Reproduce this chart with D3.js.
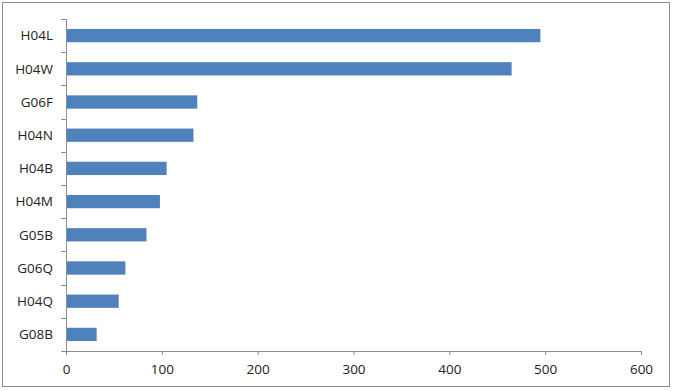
<!DOCTYPE html>
<html>
<head>
<meta charset="utf-8">
<script src="https://cdn.jsdelivr.net/npm/d3@7"></script>
<style>
  body { margin: 0; background: #fff; }
  text { font-family: "Open Sans", sans-serif; fill: #222; }
</style>
</head>
<body>
<div id="graph"></div>
<script>
// data
var categories = ["H04L", "H04W", "G06F", "H04N", "H04B", "H04M", "G05B", "G06Q", "H04Q", "G08B"]
var counts = [495, 465, 137, 133, 105, 98, 84, 62, 55, 32]
var xTicks = [0, 100, 200, 300, 400, 500, 600]

var W = 673, H = 391
var margin = {top: 19, right: 32, bottom: 40, left: 66},
    width = 641 - margin.left,
    height = 351 - margin.top

var svg = d3.select("#graph").append("svg")
            .attr("width", W)
            .attr("height", H)

// outer frame
svg.append("rect")
   .attr("x", 2.5).attr("y", 2.5)
   .attr("width", 667).attr("height", 384)
   .attr("fill", "#fff")
   .attr("stroke", "#8c8c8c")
   .attr("stroke-width", 1)

var g = svg.append("g")
           .attr("transform", "translate(" + margin.left + "," + margin.top + ")")

var x = d3.scaleLinear().domain([0, 600]).range([0, width])
var y = d3.scaleBand().domain(categories).range([0, height]).paddingInner(0.6).paddingOuter(0.3)

// bars
g.selectAll(".bar")
 .data(categories)
 .enter().append("rect")
 .attr("class", "bar")
 .attr("x", x(0))
 .attr("y", function(d) { return y(d) })
 .attr("width", function(d, i) { return x(counts[i]) - x(0) })
 .attr("height", y.bandwidth())
 .attr("fill", "#4f81bd")

// x axis
var xAxis = g.append("g")
             .attr("transform", "translate(0," + height + ")")
             .call(d3.axisBottom(x).tickValues(xTicks).tickSize(4).tickSizeOuter(0).tickPadding(9))
xAxis.select(".domain").attr("stroke", "#8c8c8c")
xAxis.selectAll(".tick line").attr("stroke", "#8c8c8c")
xAxis.selectAll("text").attr("font-size", 13.5).style("fill", "#222")

// y axis: line plus ticks at band boundaries
var yAxis = g.append("g")
yAxis.append("line")
     .attr("x1", 0.5).attr("x2", 0.5)
     .attr("y1", 0).attr("y2", height)
     .attr("stroke", "#8c8c8c")
var step = height / categories.length
yAxis.selectAll(".yt")
     .data(d3.range(categories.length + 1))
     .enter().append("line")
     .attr("x1", -5).attr("x2", 0)
     .attr("y1", function(i) { return Math.round(i * step) + 0.5 })
     .attr("y2", function(i) { return Math.round(i * step) + 0.5 })
     .attr("stroke", "#8c8c8c")
yAxis.selectAll(".yl")
     .data(categories)
     .enter().append("text")
     .attr("x", -13)
     .attr("y", function(d) { return y(d) + y.bandwidth() / 2 })
     .attr("dy", "0.35em")
     .attr("text-anchor", "end")
     .attr("font-size", 13.5)
     .text(function(d) { return d })
</script>
</body>
</html>
